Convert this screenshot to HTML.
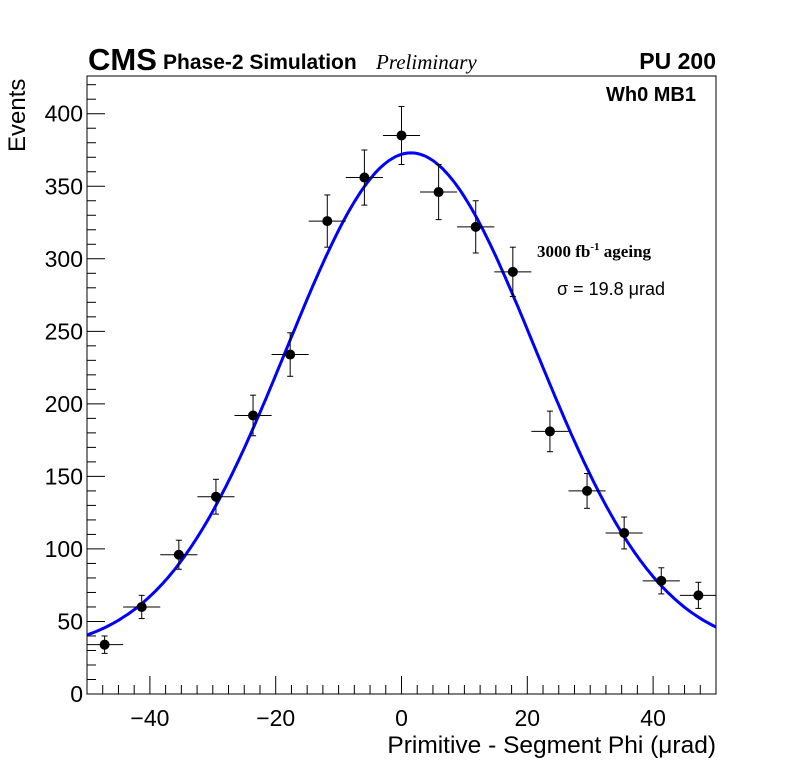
<!DOCTYPE html>
<html><head><meta charset="utf-8"><style>
body{margin:0;background:#fff;}
svg text{font-family:"Liberation Sans",sans-serif;}
</style></head><body>
<svg id="chart" width="796" height="772" xmlns="http://www.w3.org/2000/svg">
<rect width="796" height="772" fill="#fff"/>
<g id="axes"></g>
<g id="fit"></g>
<g id="pts"></g>
<text x="88" y="70" font-size="31" font-weight="bold">CMS</text>
<text x="163" y="69" font-size="21" font-weight="bold">Phase-2 Simulation</text>
<text x="376" y="69" font-size="21" font-style="italic" style="font-family:'Liberation Serif',serif">Preliminary</text>
<text x="716" y="69" font-size="23" font-weight="bold" text-anchor="end">PU 200</text>
<text x="696" y="101" font-size="20" font-weight="bold" text-anchor="end">Wh0 MB1</text>
<text x="537" y="257" font-size="17" font-weight="bold" style="font-family:'Liberation Serif',serif">3000 fb<tspan font-size="11" dy="-7">-1</tspan><tspan dy="7"> ageing</tspan></text>
<text x="557" y="295" font-size="18">σ = 19.8 μrad</text>
<text transform="translate(25,152) rotate(-90)" font-size="24">Events</text>
<text x="716" y="753" font-size="24.5" text-anchor="end">Primitive - Segment Phi (μrad)</text>
</svg>
<script>
const xs=[-47.2,-41.3,-35.4,-29.5,-23.6,-17.7,-11.8,-5.9,0,5.9,11.8,17.7,23.6,29.5,35.4,41.3,47.2];
const ys=[34,60,96,136,192,234,326,356,385,346,322,291,181,140,111,78,68];
const errs=[6,8,10,12,14,15,18,19,20,19,18,17,14,12,11,9,9];
const fitAmp=[344];const fitMean=[1.5];const fitSigma=[19.8];const fitConst=[29];
const xTicks=[-40,-20,0,20,40];
const yTicks=[0,50,100,150,200,250,300,350,400];
const halfBin=2.95;
const L=87,R=716,T=76,B=694,X0=-50,X1=50,Y1=426;
const sx=v=>L+(v-X0)/(X1-X0)*(R-L);
const sy=v=>B-v/Y1*(B-T);
const NS="http://www.w3.org/2000/svg";
function mk(p,t,a){const e=document.createElementNS(NS,t);for(const k in a)e.setAttribute(k,a[k]);p.appendChild(e);return e;}
const ax=document.getElementById('axes');
const fr=mk(ax,'rect',{x:L,y:T,width:R-L,height:B-T,fill:'none',stroke:'#000','stroke-width':1});


for(let v=-50;v<=50;v+=2.5){const isM=v%20===0;const x=sx(v);
 const t=mk(ax,'line',{x1:x,x2:x,y1:B,y2:B-(isM?18:9),stroke:'#000'});
 
 }
xTicks.forEach(v=>{const t=mk(ax,'text',{x:sx(v),y:726,'font-size':23,'text-anchor':'middle'});t.textContent=v<0?'\u2212'+(-v):v;
 
 });
for(let v=0;v<=420;v+=10){const isM=v%50===0;const y=sy(v);
 const t=mk(ax,'line',{x1:L,x2:L+(isM?18:9),y1:y,y2:y,stroke:'#000'});
 
 }
yTicks.forEach(v=>{const t=mk(ax,'text',{x:L-4,y:sy(v)+8,'font-size':23,'text-anchor':'end'});t.textContent=v;
 
 });
let d='';for(let i=0;i<=200;i++){const v=X0+i*(X1-X0)/200;
 const f=fitAmp[0]*Math.exp(-((v-fitMean[0])**2)/(2*fitSigma[0]**2))+fitConst[0];
 d+=(i?'L':'M')+sx(v).toFixed(1)+','+sy(f).toFixed(1);}
const fl=mk(document.getElementById('fit'),'path',{d:d,fill:'none',stroke:'#0000ff','stroke-width':3});


const pg=document.getElementById('pts');
xs.forEach((x,i)=>{const cx=sx(x),cy=sy(ys[i]);
 const g=mk(pg,'g',{stroke:'#000','stroke-width':1});
 
 
 mk(g,'line',{x1:sx(Math.max(X0,x-halfBin)),x2:sx(Math.min(X1,x+halfBin)),y1:cy,y2:cy});
 mk(g,'line',{x1:cx,x2:cx,y1:sy(ys[i]-errs[i]),y2:sy(ys[i]+errs[i])});
 mk(g,'line',{x1:cx-3,x2:cx+3,y1:sy(ys[i]-errs[i]),y2:sy(ys[i]-errs[i])});
 mk(g,'line',{x1:cx-3,x2:cx+3,y1:sy(ys[i]+errs[i]),y2:sy(ys[i]+errs[i])});
 mk(g,'circle',{cx:cx,cy:cy,r:4.5,fill:'#000'});});
</script>
</body></html>
